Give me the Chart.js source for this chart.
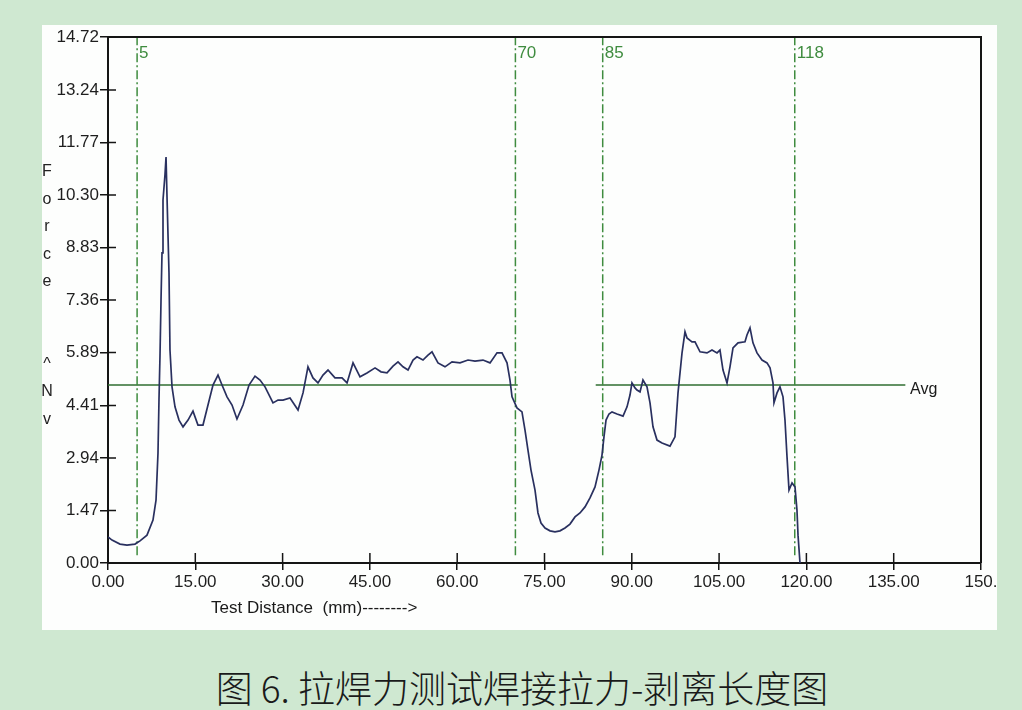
<!DOCTYPE html>
<html>
<head>
<meta charset="utf-8">
<script src="https://cdn.jsdelivr.net/npm/chart.js@4.4.1/dist/chart.umd.min.js"></script>
<style>
  html, body { margin: 0; padding: 0; }
  body { width: 1022px; height: 710px; background: #cfe8d1; position: relative; overflow: hidden; }
  #panel { position: absolute; left: 42px; top: 25px; width: 955px; height: 605px; background: #fdfefd; }
  #caption { position: absolute; left: 0; width: 1044px; top: 660px; text-align: center; white-space: pre;
    font-family: "Noto Sans CJK SC", sans-serif; font-size: 37px; color: #1a1a1a; font-weight: 300; }
</style>
</head>
<body>
<div id="panel"><canvas id="c"></canvas></div>
<div id="caption">图 6. 拉焊力测试焊接拉力-剥离长度图</div>
<script>
// ---- data ----
const distance = [0.00,0.69,2.06,3.26,4.64,5.50,6.70,7.73,8.25,8.59,8.76,8.93,9.11,9.28,9.45,9.79,9.97,10.14,10.48,10.65,
  11.00,11.51,12.20,12.89,13.75,14.60,15.46,16.32,17.18,18.04,18.90,19.59,20.45,21.31,22.16,23.20,24.23,25.26,26.12,26.98,
  28.35,29.21,30.07,31.27,32.65,33.51,34.36,35.22,36.08,36.94,37.80,39.00,40.21,41.07,42.10,43.30,44.50,45.88,46.91,47.94,
  48.97,49.83,50.69,51.55,52.41,53.09,54.12,54.98,55.67,56.70,57.90,59.11,60.48,61.86,63.06,64.43,65.64,66.84,67.70,68.56,
  69.07,69.42,70.27,71.13,71.65,72.16,72.68,73.37,73.88,74.40,75.09,75.95,76.80,77.66,78.52,79.38,80.24,81.10,81.96,82.82,
  83.68,84.36,84.88,85.22,85.57,86.08,86.60,87.46,88.49,89.18,89.69,90.03,90.55,90.89,91.41,91.92,92.61,93.13,93.64,94.33,
  95.19,96.56,97.42,97.94,98.63,99.14,99.48,100.34,100.86,101.72,102.92,103.78,104.64,105.15,105.67,106.36,106.87,107.39,108.25,109.45,
  109.79,110.31,110.82,111.51,112.37,113.23,113.75,114.26,114.43,114.95,115.46,115.98,116.32,116.67,117.01,117.53,118.04,118.38,118.56,118.90];
const force = [0.73,0.64,0.53,0.50,0.53,0.62,0.78,1.20,1.76,3.08,4.56,5.77,7.36,8.68,10.16,10.86,11.36,10.24,8.12,5.96,
  4.93,4.37,4.00,3.81,4.00,4.25,3.86,3.86,4.42,4.98,5.26,4.98,4.65,4.42,4.03,4.42,4.98,5.23,5.12,4.93,
  4.48,4.56,4.56,4.62,4.28,4.76,5.49,5.18,5.04,5.26,5.40,5.18,5.18,5.04,5.60,5.21,5.32,5.46,5.35,5.32,
  5.51,5.63,5.49,5.40,5.68,5.77,5.68,5.82,5.91,5.60,5.49,5.63,5.60,5.68,5.65,5.68,5.60,5.88,5.88,5.60,
  5.12,4.65,4.34,4.23,3.72,3.16,2.60,2.04,1.40,1.12,0.98,0.90,0.87,0.90,0.98,1.09,1.29,1.40,1.57,1.82,
  2.13,2.60,3.02,3.53,4.00,4.17,4.23,4.17,4.11,4.37,4.70,5.04,4.90,4.84,4.79,5.12,4.93,4.48,3.81,3.44,
  3.36,3.27,3.53,4.76,5.88,6.47,6.30,6.19,6.19,5.91,5.88,5.96,5.88,5.96,5.40,5.04,5.49,6.02,6.16,6.19,
  6.38,6.58,6.16,5.88,5.68,5.60,5.46,5.04,4.48,4.76,4.93,4.65,4.00,2.97,2.04,2.24,2.13,1.48,0.78,0.00];

const markerX = [5, 70, 85, 118];
const markerLabels = ["5", "70", "85", "118"];
const markerSpan = [0.22, 14.72];

const avgValue = 4.98;
const avgSegmentStarts = [0, 83.8];
const avgSegmentEnds = [70.4, 137.0];
const avgLabel = "Avg";
const avgLabelX = 137.8;

const xTickValues = [0, 15, 30, 45, 60, 75, 90, 105, 120, 135, 150];
const xTickLabels = ["0.00","15.00","30.00","45.00","60.00","75.00","90.00","105.00","120.00","135.00","150."];
const yTickValues = [0, 1.47, 2.94, 4.41, 5.89, 7.36, 8.83, 10.30, 11.77, 13.24, 14.72];
const yTickLabels = ["0.00","1.47","2.94","4.41","5.89","7.36","8.83","10.30","11.77","13.24","14.72"];
const yTitleChars = ["F","o","r","c","e","","","^","N","v"];
const xTitle = "Test Distance  (mm)-------->";

// ---- styles ----
const FONT = '"Liberation Sans", Arial, sans-serif';
const curveColor = "#29305f";
const markerColor = "#3f8c3f";
const avgColor = "#2f6e30";
const axisColor = "#151515";

const datasets = [];
datasets.push({
  label: "Force",
  data: distance.map((d, i) => ({ x: d, y: force[i] })),
  borderColor: curveColor, borderWidth: 1.7, pointRadius: 0, tension: 0, order: 0
});
avgSegmentStarts.forEach((s, i) => {
  datasets.push({
    label: "Avg" + i,
    data: [{ x: s, y: avgValue }, { x: avgSegmentEnds[i], y: avgValue }],
    borderColor: avgColor, borderWidth: 1.6, pointRadius: 0, order: 2
  });
});
markerX.forEach((m, i) => {
  datasets.push({
    label: "M" + markerLabels[i],
    data: [{ x: m, y: markerSpan[0] }, { x: m, y: markerSpan[1] }],
    borderColor: markerColor, borderWidth: 1.5, borderDash: [9, 3, 2, 3], pointRadius: 0, order: 1
  });
});

const decor = {
  id: "decor",
  afterDraw(chart) {
    const ctx = chart.ctx, a = chart.chartArea;
    const xs = chart.scales.x, ys = chart.scales.y;
    ctx.save();
    // frame top and right
    ctx.strokeStyle = axisColor; ctx.lineWidth = 2;
    ctx.beginPath();
    ctx.moveTo(a.left, a.top); ctx.lineTo(a.right, a.top); ctx.lineTo(a.right, a.bottom);
    ctx.stroke();
    // inner tick parts
    ctx.lineWidth = 1.5;
    ctx.beginPath();
    xTickValues.forEach(v => { const px = xs.getPixelForValue(v); ctx.moveTo(px, a.bottom); ctx.lineTo(px, a.bottom - 10); });
    yTickValues.forEach(v => { const py = ys.getPixelForValue(v); ctx.moveTo(a.left, py); ctx.lineTo(a.left + 8, py); });
    ctx.stroke();
    // marker labels
    ctx.fillStyle = markerColor; ctx.font = "17px " + FONT;
    ctx.textAlign = "left"; ctx.textBaseline = "middle";
    markerX.forEach((m, i) => ctx.fillText(markerLabels[i], xs.getPixelForValue(m) + 2, a.top + 16));
    // avg label
    ctx.fillStyle = "#1a1a1a"; ctx.font = "16px " + FONT;
    ctx.fillText(avgLabel, xs.getPixelForValue(avgLabelX), ys.getPixelForValue(avgValue) + 5);
    // y title stacked letters
    ctx.fillStyle = "#222"; ctx.font = "16px " + FONT; ctx.textAlign = "center";
    yTitleChars.forEach((ch, i) => ctx.fillText(ch, 5, a.top + 135 + i * 27.5));
    // x title
    ctx.textAlign = "left"; ctx.font = "17px " + FONT; ctx.fillStyle = "#1a1a1a";
    ctx.fillText(xTitle, a.left + 103, a.bottom + 45);
    ctx.restore();
  }
};

new Chart(document.getElementById("c"), {
  type: "line",
  data: { datasets },
  options: {
    responsive: true, maintainAspectRatio: false, animation: false,
    layout: { padding: { left: 0, top: 12, right: 16, bottom: 0 } },
    plugins: { legend: { display: false }, tooltip: { enabled: false } },
    scales: {
      x: {
        type: "linear", min: 0, max: 150,
        afterBuildTicks: s => { s.ticks = xTickValues.map(v => ({ value: v })); },
        afterFit: s => { s.height = 67; s.paddingRight = 0; s.paddingLeft = 0; },
        ticks: { autoSkip: false, maxRotation: 0, padding: 2, color: "#1e1e1e",
          font: { family: FONT, size: 17 },
          callback: (v) => xTickLabels[xTickValues.indexOf(v)] },
        grid: { drawOnChartArea: false, tickLength: 7, color: axisColor, lineWidth: 1.5 },
        border: { color: axisColor, width: 2 }
      },
      y: {
        type: "linear", min: 0, max: 14.72,
        afterBuildTicks: s => { s.ticks = yTickValues.map(v => ({ value: v })); },
        afterFit: s => { s.width = 66; s.paddingTop = 0; s.paddingBottom = 0; },
        ticks: { autoSkip: false, padding: 1, color: "#1e1e1e",
          font: { family: FONT, size: 17 },
          callback: (v) => yTickLabels[yTickValues.indexOf(v)] },
        grid: { drawOnChartArea: false, tickLength: 8, color: axisColor, lineWidth: 1.5 },
        border: { color: axisColor, width: 2 }
      }
    }
  },
  plugins: [decor]
});
</script>
</body>
</html>
